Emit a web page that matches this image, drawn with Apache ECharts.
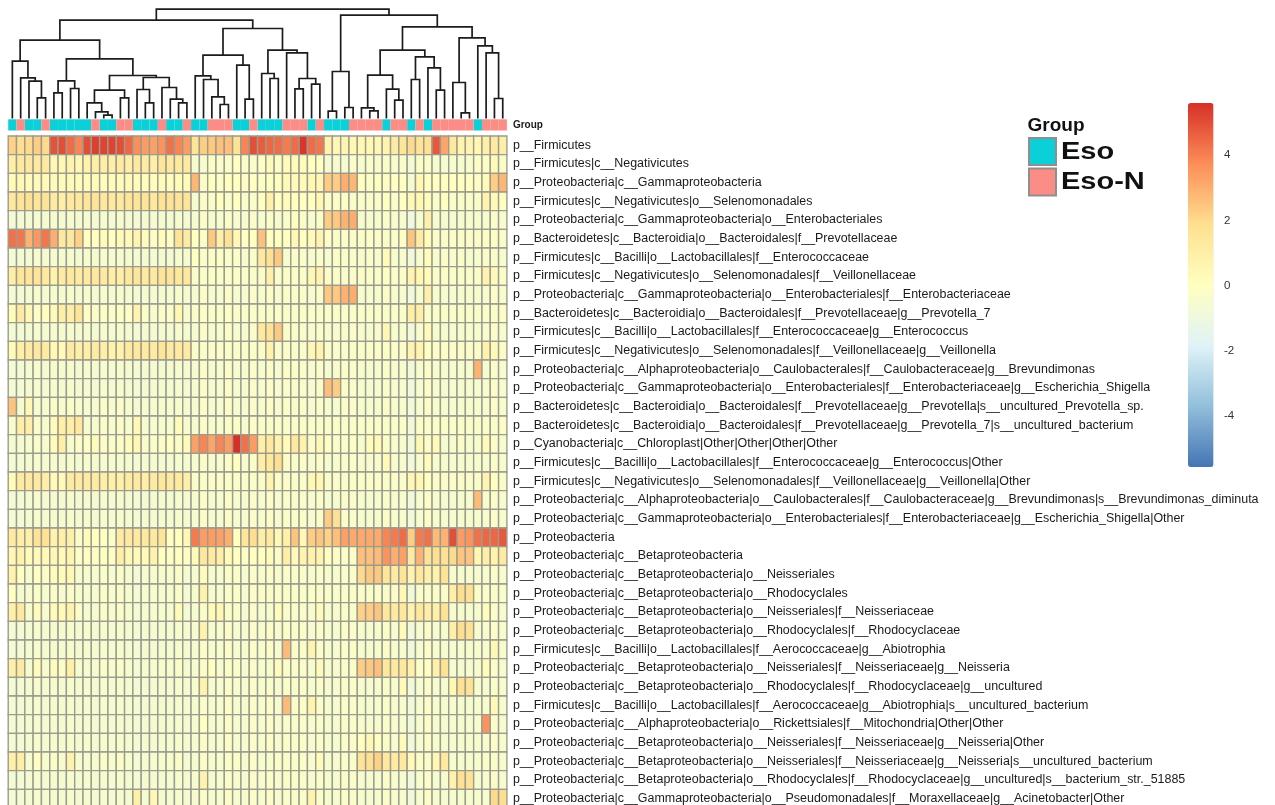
<!DOCTYPE html>
<html><head><meta charset="utf-8">
<style>html,body{margin:0;padding:0;background:#fff;overflow:hidden}#c{width:1275px;height:805px}</style>
<script src="https://cdn.jsdelivr.net/npm/echarts@6/dist/echarts.min.js"></script>
</head><body><div id="c"></div>
<script>
const rowLabels = [
"p__Firmicutes",
"p__Firmicutes|c__Negativicutes",
"p__Proteobacteria|c__Gammaproteobacteria",
"p__Firmicutes|c__Negativicutes|o__Selenomonadales",
"p__Proteobacteria|c__Gammaproteobacteria|o__Enterobacteriales",
"p__Bacteroidetes|c__Bacteroidia|o__Bacteroidales|f__Prevotellaceae",
"p__Firmicutes|c__Bacilli|o__Lactobacillales|f__Enterococcaceae",
"p__Firmicutes|c__Negativicutes|o__Selenomonadales|f__Veillonellaceae",
"p__Proteobacteria|c__Gammaproteobacteria|o__Enterobacteriales|f__Enterobacteriaceae",
"p__Bacteroidetes|c__Bacteroidia|o__Bacteroidales|f__Prevotellaceae|g__Prevotella_7",
"p__Firmicutes|c__Bacilli|o__Lactobacillales|f__Enterococcaceae|g__Enterococcus",
"p__Firmicutes|c__Negativicutes|o__Selenomonadales|f__Veillonellaceae|g__Veillonella",
"p__Proteobacteria|c__Alphaproteobacteria|o__Caulobacterales|f__Caulobacteraceae|g__Brevundimonas",
"p__Proteobacteria|c__Gammaproteobacteria|o__Enterobacteriales|f__Enterobacteriaceae|g__Escherichia_Shigella",
"p__Bacteroidetes|c__Bacteroidia|o__Bacteroidales|f__Prevotellaceae|g__Prevotella|s__uncultured_Prevotella_sp.",
"p__Bacteroidetes|c__Bacteroidia|o__Bacteroidales|f__Prevotellaceae|g__Prevotella_7|s__uncultured_bacterium",
"p__Cyanobacteria|c__Chloroplast|Other|Other|Other|Other",
"p__Firmicutes|c__Bacilli|o__Lactobacillales|f__Enterococcaceae|g__Enterococcus|Other",
"p__Firmicutes|c__Negativicutes|o__Selenomonadales|f__Veillonellaceae|g__Veillonella|Other",
"p__Proteobacteria|c__Alphaproteobacteria|o__Caulobacterales|f__Caulobacteraceae|g__Brevundimonas|s__Brevundimonas_diminuta",
"p__Proteobacteria|c__Gammaproteobacteria|o__Enterobacteriales|f__Enterobacteriaceae|g__Escherichia_Shigella|Other",
"p__Proteobacteria",
"p__Proteobacteria|c__Betaproteobacteria",
"p__Proteobacteria|c__Betaproteobacteria|o__Neisseriales",
"p__Proteobacteria|c__Betaproteobacteria|o__Rhodocyclales",
"p__Proteobacteria|c__Betaproteobacteria|o__Neisseriales|f__Neisseriaceae",
"p__Proteobacteria|c__Betaproteobacteria|o__Rhodocyclales|f__Rhodocyclaceae",
"p__Firmicutes|c__Bacilli|o__Lactobacillales|f__Aerococcaceae|g__Abiotrophia",
"p__Proteobacteria|c__Betaproteobacteria|o__Neisseriales|f__Neisseriaceae|g__Neisseria",
"p__Proteobacteria|c__Betaproteobacteria|o__Rhodocyclales|f__Rhodocyclaceae|g__uncultured",
"p__Firmicutes|c__Bacilli|o__Lactobacillales|f__Aerococcaceae|g__Abiotrophia|s__uncultured_bacterium",
"p__Proteobacteria|c__Alphaproteobacteria|o__Rickettsiales|f__Mitochondria|Other|Other",
"p__Proteobacteria|c__Betaproteobacteria|o__Neisseriales|f__Neisseriaceae|g__Neisseria|Other",
"p__Proteobacteria|c__Betaproteobacteria|o__Neisseriales|f__Neisseriaceae|g__Neisseria|s__uncultured_bacterium",
"p__Proteobacteria|c__Betaproteobacteria|o__Rhodocyclales|f__Rhodocyclaceae|g__uncultured|s__bacterium_str._51885",
"p__Proteobacteria|c__Gammaproteobacteria|o__Pseudomonadales|f__Moraxellaceae|g__Acinetobacter|Other"
];
const groupNames = ["Eso", "Eso-N"];
const groupColors = ["#0CD0D8", "#FB8D86"];
/* 0 = Eso, 1 = Eso-N, in dendrogram leaf order */
const sampleGroups = [0,1,0,0,1,0,0,0,0,0, 1,0,0,1,1,0,0,0,1,0, 0,1,0,0,1,1,1,0,0,1,
                      0,0,0,1,1,1,0,1,0,0, 0,1,1,1,1,0,1,1,0,1, 0,1,1,1,1,1,0,1,1,1];
/* merge height, left, right; 0 is a leaf */
const treeA = [57.3,0,[40.7,0,[37.3,0,[20.7,0,0]]]];
const treeB = [37.7,[25.7,0,0],[30,0,0]];
const treeC = [28.3,[15.7,0,[6.7,0,[3.3,0,0]]],[20.7,0,0]];
const treeD = [41,[29,0,[15.7,0,0]],[31,0,[19.3,0,[15.7,0,0]]]];
const treeE = [63.3,[42.7,0,[39,0,[21.7,0,[14,0,0]]]],[53.3,0,[19.3,0,0]]];
const treeF = [68.3,[45,0,[40,0,0]],[65.7,0,[40,[29.7,0,0],[34.3,0,0]]]];
const treeG = [47,[7.3,0,0],[11,0,0]];
const treeI = [68.3,[43.3,[10.7,0,[7.7,0,0]],[29.3,0,[18.3,0,0]]],[61.7,[39,0,0],[50.7,0,[28.3,0,0]]]];
const treeJ = [80.7,[36,0,[5.7,0,0]],[72.7,0,[65.7,0,[20,0,0]]]];
const treeRoot = [109.3,[98.3,[78.3,treeA,[59.7,treeB,[43,treeC,treeD]]],[90,treeE,treeF]],[103.3,treeG,[91.7,treeI,treeJ]]];
const colorStops = ["#4575B4","#91BFDB","#E0F3F8","#FFFFBF","#FEE090","#FC8D59","#D73027"];
const heatRows = [
[2.2,1.9,2,2.3,2,4.9,5,4.4,3.9,5, 5.3,5.2,5.2,5,4.5,3.7,3.4,3.3,3.6,4.3, 3.9,3.4,1.6,2.3,2.4,2.6,2.6,1.7,3.9,5, 4.7,4.5,4.4,4.1,4.4,5.5,4.4,4.2,.7,.4, .6,.5,.4,.5,.4,.7,1.2,1.5,2,1.6, 1.8,4.8,3.2,1.4,.7,.7,.4,.9,1.2,1],
[1,1.3,1.4,1.3,1.3,.4,.4,.7,.5,.8, 1,1,1,1.2,1,1.3,1.2,1,1.5,1.3, 1.3,1.3,-.5,-.5,-.3,-.3,-.3,0,-.3,-.3, -.2,.3,-.2,.2,.2,.2,0,0,-.6,-.5, -.5,-.3,-.5,-.3,-.5,-.3,-.5,-.3,-.7,-.3, -.3,-.5,-.5,-.5,-.5,-.5,-.3,-.2,.3,-.3],
[.3,.4,.2,.3,.3,.2,.2,.3,.2,.2, .2,.1,.2,.2,.3,.2,.1,.1,.2,.1, .2,.2,2.8,-.3,0,-.2,0,0,-.2,0, -.2,0,0,.3,.3,.3,.5,.5,2.3,2.3, 3,2.8,0,-.2,0,-.2,0,0,-.6,.5, 0,0,0,0,0,0,-.2,.2,2.3,2.8],
[1.4,1.6,1.8,1.6,1.6,1.2,1,1.3,1.4,1.5, 1.6,1.4,1.3,1.3,1.5,1.6,1.6,1.4,1.7,1.7, 1.6,1.6,-.5,-.3,-.3,0,-.3,0,-.3,-.3, 0,.9,0,.2,0,0,0,.5,-.3,-.3, -.2,-.3,-.3,-.3,-.3,0,-.3,0,.4,.5, .2,-.3,0,-.3,-.3,-.3,-.3,.7,.3,0],
[-.7,-.7,-.6,-.5,-.6,-.5,-.6,-.5,-.6,-.5, -.6,-.5,-.6,-.5,-.6,-.7,-.6,-.6,-.6,-.6, -.5,-.6,-.5,-.3,-.5,-.5,-.3,-.5,-.5,-.3, -.5,-.3,-.5,-.3,0,-.3,-.5,-.3,2.3,2.4, 2.9,3,-.5,-.5,-.5,-.3,-.5,-.5,-1,-.5, .9,-.5,-.5,-.5,-.5,-.5,-.5,-.5,-.3,-.5],
[4.3,4.2,2.9,3.5,4.2,3,1.3,1.4,2.2,0, 0,.2,0,.3,.3,.7,.2,-.2,.2,-.2, 1.6,1.2,0,-.2,2.4,.9,1.8,.4,0,0, 2.6,0,0,0,.4,0,.3,.7,-.2,-.3, -.2,-.3,-.3,-.2,-.3,-.3,-.3,-.2,2.5,1.2, .2,-.3,-.3,-.3,-.3,-.3,-.3,-.2,-.2,-.3],
[-.7,-.7,-.6,-.5,-.6,-.5,-.6,-.5,-.6,-.5, -.6,-.5,-.6,-.5,-.6,-.7,-.6,-.6,-.6,-.6, -.5,-.6,0,-.3,-.3,-.2,-.3,-.3,-.5,-.3, 1.4,1.8,2.4,-.5,-.3,-.3,-.5,-.3,-.5,-.3, -.3,-.3,-.5,-.3,-.5,.3,-.5,-.5,-.9,-.5, .2,-.5,-.3,-.5,-.3,-.5,-.5,-.3,-.3,-.5],
[1,1.5,1.5,1.6,1.3,.8,1.2,1.4,1.2,1.3, 1.4,1.3,1,1,1.4,1.5,1.3,1.3,1.6,1.5, 1.4,1.4,-.3,-.3,-.2,-.3,-.3,-.2,-.3,-.3, -.3,.9,-.3,-.3,-.2,-.3,.4,.7,-.3,-.3, -.3,-.3,-.3,-.3,-.3,-.2,-.3,-.3,.7,.5, .2,-.3,-.2,-.3,-.3,-.3,-.3,.7,.3,-.3],
[-.7,-.7,-.6,-.5,-.6,-.5,-.6,-.5,-.6,-.5, -.6,-.5,-.6,-.5,-.6,-.7,-.6,-.6,-.6,-.6, -.5,-.6,-.5,-.3,-.5,-.5,-.3,-.5,-.5,-.3, -.5,-.3,-.5,-.3,-.3,-.3,-.5,-.3,2.4,2.4, 2.9,3,-.5,-.5,-.5,-.3,-.5,-.5,-1,-.5, .9,-.5,-.5,-.5,-.5,-.5,-.5,-.5,-.3,-.5],
[.2,1.2,.4,-.2,0,.3,1,1,1.6,-.2, -.3,-.2,-.3,-.2,-.2,.7,-.3,-.5,-.3,-.3, .5,-.5,-.3,-.2,-.3,-.3,-.2,-.3,-.3,-.3, -.3,-.3,-.3,-.3,-.3,-.3,-.3,-.3,-.3,-.3, -.3,-.3,-.3,-.3,-.3,-.3,-.3,-.3,1,1, -.3,-.3,-.3,-.3,-.3,-.3,-.3,-.3,-.3,-.3],
[-.7,-.7,-.6,-.5,-.6,-.5,-.6,-.5,-.6,-.5, -.6,-.5,-.6,-.5,-.6,-.7,-.6,-.6,-.6,-.6, -.5,-.6,-.5,-.3,-.5,-.5,-.3,-.5,-.5,-.3, 1.3,1.7,2.4,-.3,-.3,-.3,-.5,-.3,-.5,-.5, -.3,-.3,-.5,-.5,-.5,.4,-.5,-.5,-.9,-.5, .3,-.5,-.5,-.5,-.5,-.5,-.5,-.5,-.3,-.5],
[.3,1,1.2,1.4,1.2,.4,.3,1.2,1,1, 1.2,1,.8,.8,1.3,1.4,1.2,1.2,1.5,1.3, 1.2,1.2,-.3,-.3,-.3,-.3,-.3,-.3,-.3,-.3, -.3,.8,-.3,-.3,-.3,-.3,.4,.7,-.3,-.3, -.3,-.3,-.3,-.3,-.3,-.2,-.3,-.3,.7,.7, 0,-.3,-.2,-.3,-.3,-.3,-.3,.8,.3,-.3],
[-.7,-.7,-.6,-.5,-.6,-.5,-.6,-.5,-.6,-.5, -.6,-.5,-.6,-.5,-.6,-.7,-.6,-.6,-.6,-.6, -.5,-.6,-.5,-.3,-.5,-.5,-.3,-.5,-.5,-.3, -.5,-.3,-.5,-.3,-.3,-.3,-.5,-.3,-.5,-.5, -.3,-.3,-.5,-.5,-.5,-.3,-.5,-.5,-.9,-.5, -.3,-.5,-.5,-.5,-.5,-.5,2.9,-.5,-.3,-.5],
[-.7,-.7,-.6,-.5,-.6,-.5,-.6,-.5,-.6,-.5, -.6,-.5,-.6,-.5,-.6,-.7,-.6,-.6,-.6,-.6, -.5,-.6,-.5,-.3,-.5,-.5,-.3,-.5,-.5,-.3, -.5,-.3,-.5,-.3,-.3,-.3,-.5,-.3,2.6,2.3, -.3,-.3,-.5,-.5,-.5,-.3,-.5,-.5,-.9,-.5, -.3,-.5,-.5,-.5,-.5,-.5,-.5,-.5,-.3,-.5],
[2.5,-.6,.5,-.5,-.5,-.3,-.5,-.3,-.5,-.5, -.5,-.3,-.5,-.3,-.5,-.7,-.5,-.5,-.5,-.5, -.5,-.6,-.5,-.3,-.5,-.5,-.3,-.5,-.5,-.3, -.5,-.3,-.5,-.3,-.3,-.3,-.5,-.3,-.5,-.5, -.3,-.3,-.5,-.5,-.5,-.3,-.5,-.5,-.9,-.5, -.3,-.5,-.5,-.5,-.5,-.5,-.5,-.5,-.3,-.5],
[-.5,1,1,-.3,-.5,.2,.9,1,1.3,-.5, -.5,-.3,-.5,-.3,-.5,.5,-.5,-.5,-.5,-.5, .2,-.5,-.5,-.3,-.5,-.5,-.3,-.3,-.5,-.3, -.3,-.3,-.3,-.3,-.3,-.3,-.3,-.3,-.3,-.3, -.3,-.3,-.3,-.3,-.3,-.3,-.3,-.3,-.9,-.3, -.3,-.3,-.3,-.3,-.3,-.3,-.3,-.3,-.3,-.3],
[-.6,-.6,-.5,-.3,-.5,.2,1,-.5,-.3,-.2, .2,-.3,-.3,-.3,.2,.4,-.5,-.3,-.3,0, -.3,.2,3.3,3.9,3.2,3.9,3.4,5.6,4.3,3.4, .9,1.3,.8,.2,1.4,.8,-.3,.4,-.2,-.3, -.3,-.2,-.5,.2,.3,-.3,-.5,-.5,-.9,.4, -.3,.3,-.5,-.5,-.3,-.5,-.5,.3,-.3,-.5],
[-.7,-.7,-.6,-.5,-.6,-.5,-.6,-.5,-.6,-.5, -.6,-.5,-.6,-.5,-.6,-.7,-.6,-.6,-.6,-.6, -.5,-.6,-.5,-.3,-.5,-.5,-.3,0,-.5,-.3, 1,1.4,1.9,-.3,-.3,-.3,-.5,-.3,-.5,-.5, -.3,-.3,-.5,-.5,-.5,.3,-.5,-.5,-.9,-.5, .2,-.5,-.5,-.5,-.5,-.5,-.5,-.5,-.3,-.5],
[.2,1.2,1.3,1.3,1,.3,.3,1.2,1.2,1.2, 1.2,1,.9,.9,1.2,1.3,1,1.2,1.4,1.3, 1.2,1,-.3,-.3,-.3,-.3,-.3,-.3,-.3,-.3, -.3,.7,-.3,-.3,-.3,-.3,.4,.5,-.3,-.3, -.3,-.3,-.3,-.3,-.3,-.3,-.3,-.3,.5,.5, 0,-.3,-.3,-.3,-.3,-.3,-.3,.7,0,-.3],
[-.7,-.7,-.6,-.5,-.6,-.5,-.6,-.5,-.6,-.5, -.6,-.5,-.6,-.5,-.6,-.7,-.6,-.6,-.6,-.6, -.5,-.6,-.5,-.3,-.5,-.5,-.3,-.5,-.5,-.3, -.5,-.3,-.5,-.3,-.3,-.3,-.5,-.3,-.5,-.5, -.3,-.3,-.5,-.5,-.5,-.3,-.5,-.5,-.9,-.5, -.3,-.5,-.5,-.5,-.5,-.5,2.7,-.5,-.3,-.5],
[-.7,-.7,-.6,-.5,-.6,-.5,-.6,-.5,-.6,-.5, -.6,-.5,-.6,-.5,-.6,-.7,-.6,-.6,-.6,-.6, -.5,-.6,-.5,-.3,-.5,-.5,-.3,-.5,-.5,-.3, -.5,-.3,-.5,-.3,-.3,-.3,-.5,-.3,2.3,1.8, -.3,-.3,-.5,-.5,-.5,-.3,-.5,-.5,-.9,-.5, -.3,-.5,-.5,-.5,-.5,-.5,-.5,-.5,-.3,-.5],
[1.2,1,.9,1.7,1.7,.8,.9,.9,-.3,.2, 0,0,-.3,1.2,1.3,1.3,1.4,1.4,1.6,0, 0,.4,4.1,3.4,3.4,3.3,3,0,1.5,1.9, 1,1.3,.4,.9,2.5,.5,2.3,2.5,2.2,2.6, 3.3,3.1,3.1,3.1,3.1,3.9,4.1,4.4,2.3,4.1, 4.3,2.7,2.9,5,3.4,3.6,4.3,4.5,4.5,4.8],
[.5,.8,.2,.3,.3,.4,.3,.7,-.2,0, -.2,0,-.2,1,.4,.3,.3,.8,0,-.2, 0,-.2,.2,1.4,1.2,1,.3,0,-.2,0, 0,.2,-.3,1,.3,.7,.8,.7,0,-.2, -.3,-.2,2.6,2.6,2.7,3.6,3,3.3,1.2,2.9, 1.7,1.9,1.8,2,2.5,2.5,.5,1,.7,1.2],
[.8,0,-.5,0,-.3,.2,.2,.5,-.5,-.5, -.5,-.3,-.5,-.3,-.5,-.7,-.5,-.5,-.5,-.5, -.3,-.6,-.5,.2,-.5,-.5,-.3,-.3,-.5,-.3, -.5,-.3,-.5,-.3,-.3,-.3,-.5,-.3,-.5,-.5, -.3,-.3,2,2.4,2.4,1.5,1.2,1.6,.7,1.4, .9,.8,1.7,-.5,-.5,-.5,-.5,-.5,-.3,-.5],
[0,-.6,-.5,-.3,-.5,-.3,-.5,-.3,-.5,-.5, -.5,-.3,-.5,-.3,-.5,-.7,-.5,-.5,-.5,-.5, -.3,-.6,-.5,.8,-.5,-.5,-.3,-.3,-.5,-.3, -.3,-.3,-.3,-.3,-.3,-.3,-.3,-.3,-.3,-.3, -.3,-.3,-.3,-.3,-.3,-.3,-.3,.4,-.9,-.3, -.3,-.3,-.3,1,1.9,1.8,-.3,-.3,-.3,-.3],
[.9,1.3,-.5,.2,-.5,.3,.3,.8,-.3,-.5, -.5,-.3,-.5,-.3,-.5,-.7,-.5,-.5,-.5,-.5, .3,-.6,-.5,-.3,.2,.4,-.3,-.3,-.5,-.3, -.5,-.5,.2,-.3,-.3,-.3,-.5,.3,-.5,-.5, -.3,-.3,2.2,2.3,2.5,1.4,1.3,1.4,.8,1.4, 1,.9,1.7,-.5,-.5,-.5,-.5,.2,-.3,-.5],
[-.7,-.7,-.6,-.5,-.6,-.5,-.6,-.5,-.6,-.5, -.6,-.5,-.6,-.5,-.6,-.7,-.6,-.6,-.6,-.6, -.5,-.6,-.5,.8,-.5,-.5,-.3,-.5,-.5,-.3, -.5,-.3,-.5,-.3,-.3,-.3,-.5,-.3,-.5,-.5, -.3,-.3,-.5,-.5,-.5,-.3,-.5,.3,-.9,-.5, -.3,-.5,-.5,1,1.9,1.8,-.5,-.5,-.3,-.5],
[-.7,-.7,-.6,-.5,-.6,-.5,-.6,-.5,-.6,-.5, -.6,-.5,-.6,-.5,-.6,-.7,-.6,-.6,-.6,-.6, -.5,-.6,-.5,-.3,-.5,-.5,-.3,-.5,-.5,-.3, -.5,-.3,-.5,2.7,-.3,-.3,.7,-.3,-.5,-.5, -.3,-.3,-.5,-.5,-.5,-.3,-.5,-.5,-.9,-.5, -.3,-.5,-.5,-.5,-.5,-.5,-.5,-.5,.4,-.5],
[.9,1.2,-.5,.2,-.5,.2,-.3,.9,-.5,-.5, -.5,-.3,-.5,-.3,-.5,-.7,-.5,-.5,-.5,-.5, -.3,-.6,-.5,-.3,0,-.5,-.3,-.3,-.5,-.3, -.5,-.5,.2,-.3,-.3,-.3,-.5,.3,-.5,-.5, -.3,-.3,2.3,2.4,2.6,1.4,1.3,1.4,.9,-.2, 0,.9,1.7,-.5,-.5,-.5,-.5,.2,-.3,-.5],
[-.7,-.7,-.6,-.5,-.6,-.5,-.6,-.5,-.6,-.5, -.6,-.5,-.6,-.5,-.6,-.7,-.6,-.6,-.6,-.6, -.5,-.6,-.5,.8,-.5,-.5,-.3,-.5,-.5,-.3, -.5,-.3,-.5,-.3,-.3,-.3,-.5,-.3,-.5,-.5, -.3,-.3,-.5,-.5,-.5,-.3,-.5,.3,-.9,-.5, -.3,-.5,-.5,.5,1.8,1.7,-.5,-.5,-.3,-.5],
[-.7,-.7,-.6,-.5,-.6,-.5,-.6,-.5,-.6,-.5, -.6,-.5,-.6,-.5,-.6,-.7,-.6,-.6,-.6,-.6, -.5,-.6,-.5,-.3,-.5,-.5,-.3,-.5,-.5,-.3, -.5,-.3,-.5,2.7,-.3,-.3,.7,-.3,-.5,-.5, -.3,-.3,-.5,-.5,-.5,-.3,-.5,-.5,-.9,-.5, -.3,-.5,-.5,-.5,-.5,-.5,-.5,-.5,.3,-.5],
[-.7,-.7,-.6,-.5,-.6,-.5,-.6,-.5,-.6,-.5, -.6,-.5,-.6,-.5,-.6,-.7,-.6,-.6,-.6,-.6, -.5,-.6,-.5,0,-.5,-.5,-.3,-.5,-.5,-.3, -.5,-.3,-.5,-.3,-.3,-.3,-.5,-.3,-.5,-.5, -.3,-.3,-.5,-.5,-.5,-.3,-.5,-.5,-.9,-.5, -.3,-.5,-.5,-.5,-.5,-.5,-.5,3.6,-.3,-.5],
[-.7,-.7,-.6,-.5,-.6,-.5,-.6,-.5,-.6,-.5, -.6,-.5,-.6,-.5,-.6,-.7,-.6,-.6,-.6,-.6, -.5,-.6,-.5,-.3,-.5,-.5,-.3,-.5,-.5,-.3, -.5,-.3,-.5,-.3,-.3,-.3,-.5,-.3,-.5,-.5, -.3,-.3,0,.4,0,-.3,-.5,.2,-.9,-.5, -.3,-.5,-.5,-.5,-.5,-.5,-.5,-.5,-.3,-.5],
[.9,1,-.5,0,-.5,-.3,-.5,.8,-.5,-.5, -.5,-.3,-.5,-.3,-.5,-.7,-.5,-.5,-.5,-.5, -.3,-.6,-.5,-.3,-.5,-.5,-.3,-.3,-.5,-.3, -.5,-.5,-.3,-.3,-.3,-.3,-.5,.2,-.5,-.5, -.3,-.3,1.6,1.9,2.2,1.4,1.2,1.3,.3,-.3, -.3,.5,1.3,-.5,-.5,-.5,-.5,-.3,-.3,-.5],
[-.7,-.7,-.6,-.5,-.6,-.5,-.6,-.5,-.6,-.5, -.6,-.5,-.6,-.5,-.6,-.7,-.6,-.6,-.6,-.6, -.5,-.6,-.5,.7,-.5,-.5,-.3,-.5,-.5,-.3, -.5,-.3,-.5,-.3,-.3,-.3,-.5,-.3,-.5,-.5, -.3,-.3,-.5,-.5,-.5,-.3,-.5,-.5,-.9,-.5, -.3,-.5,-.5,.8,1.8,1.7,-.5,-.5,-.3,-.5],
[-.7,-.7,-.6,-.5,-.6,-.5,-.6,-.5,-.6,-.5, -.6,-.5,-.6,-.5,-.6,.9,-.6,.4,-.6,-.6, -.5,-.6,-.5,-.3,-.5,-.5,-.3,-.5,-.5,-.3, -.5,-.3,-.5,-.3,-.3,-.3,.8,-.3,-.5,-.5, -.3,-.3,-.5,-.5,-.5,-.3,-.5,-.5,-.9,-.5, -.3,-.5,-.5,-.5,-.5,-.5,-.5,-.5,2,1.9]
];

/* walk the merge tree and turn it into U-shaped links */
const treeLinks = [];
let nextLeaf = 0;
function walk(node) {
  if (node === 0) { const p = [nextLeaf + 0.5, 0]; nextLeaf++; return p; }
  const l = walk(node[1]), r = walk(node[2]);
  treeLinks.push([l[0], r[0], node[0], l[1], r[1]]);
  return [(l[0] + r[0]) / 2, node[0]];
}
walk(treeRoot);

const heatData = [];
heatRows.forEach((row, y) => row.forEach((v, x) => heatData.push([x, y, v])));
const colIdx = sampleGroups.map((_, i) => i);
function groupData(g) {
  return sampleGroups.map((s, i) => s === g ? [i, 0] : null).filter(Boolean);
}
const CELL = "#9C9B8E";
const left = 8.2, width = 498.7;
const chart = echarts.init(document.getElementById("c"));
const cellRender = (stroke, lw, fillFn) => (params, api) => {
  const c = api.coord([api.value(0), api.value(1)]);
  const s = api.size([1, 1]);
  return { type: "rect",
    shape: { x: c[0] - s[0] / 2, y: c[1] - s[1] / 2, width: s[0], height: s[1] },
    style: { fill: fillFn(api), stroke, lineWidth: lw } };
};
const textFont = "Liberation Sans";
const legendLabel = (text, y) => ({
  type: "text", left: 1061, top: y, scaleX: 1.26, silent: true,
  style: { text, fontFamily: textFont, fontWeight: "bold", fontSize: 23, fill: "#111" }
});
chart.setOption({
  animation: false,
  backgroundColor: "#fff",
  title: { text: "Group", left: 1027.5, top: 116, padding: 0,
    textStyle: { fontFamily: textFont, fontWeight: "bold", fontSize: 19, color: "#111" } },
  legend: { orient: "vertical", left: 1028, top: 137, padding: 0, itemWidth: 27, itemHeight: 27, itemGap: 1.5,
    selectedMode: false, icon: "rect", data: groupNames, formatter: () => "",
    itemStyle: { borderColor: "#8f8f8f", borderWidth: 2 } },
  graphic: [ legendLabel(groupNames[0], 141), legendLabel(groupNames[1], 171) ],
  grid: [
    { left, width, top: 136, height: 672, outerBoundsMode: "none" },
    { left, width, top: 119.3, height: 11.2, outerBoundsMode: "none" },
    { left, width, top: 8, height: 110.5, outerBoundsMode: "none" },
    { left: 1188, width: 25.5, top: 90.1, height: 391.2, outerBoundsMode: "none" }
  ],
  xAxis: [
    { gridIndex: 0, type: "category", data: colIdx, show: false },
    { gridIndex: 1, type: "category", data: colIdx, show: false },
    { gridIndex: 2, type: "value", min: 0, max: 60, show: false },
    { gridIndex: 3, type: "value", min: 0, max: 1, show: false }
  ],
  yAxis: [
    { gridIndex: 0, type: "category", data: rowLabels, inverse: true, position: "right",
      axisLine: { show: false }, axisTick: { show: false },
      axisLabel: { interval: 0, margin: 6, fontFamily: textFont, fontSize: 12.45, color: "#1a1a1a" } },
    { gridIndex: 1, type: "category", data: ["Group"], position: "right",
      axisLine: { show: false }, axisTick: { show: false },
      axisLabel: { margin: 6, fontFamily: textFont, fontSize: 10, fontWeight: "bold", color: "#1a1a1a" } },
    { gridIndex: 2, type: "value", min: 0, max: 110.5, show: false },
    { gridIndex: 3, type: "value", min: -6, max: 6, interval: 2, position: "right",
      splitLine: { show: false }, axisLine: { show: false }, axisTick: { show: false },
      axisLabel: { margin: 10.5, fontFamily: textFont, fontSize: 11.5, color: "#333",
        formatter: v => Math.abs(v) === 6 ? "" : String(v) } }
  ],
  visualMap: {
    type: "continuous", seriesIndex: 0, dimension: 2, min: -5.6, max: 5.6,
    left: 1188, top: 103, itemWidth: 25.5, itemHeight: 364, padding: 0,
    calculable: false, hoverLink: false, realtime: false,
    inRange: { color: colorStops }
  },
  series: [
    { type: "custom", name: "heat", xAxisIndex: 0, yAxisIndex: 0, data: heatData,
      encode: { x: 0, y: 1 }, renderItem: cellRender(CELL, 1.4, api => api.visual("color")), silent: true },
    ...groupNames.map((g, gi) => ({
      type: "custom", name: g, xAxisIndex: 1, yAxisIndex: 1, data: groupData(gi),
      itemStyle: { color: groupColors[gi] }, encode: { x: 0, y: 1 },
      renderItem: cellRender(groupColors[gi], 0, () => groupColors[gi]), silent: true })),
    { type: "custom", name: "dendrogram", xAxisIndex: 2, yAxisIndex: 2, data: treeLinks, silent: true, clip: false,
      encode: { x: [0, 1], y: [2, 3, 4] },
      renderItem: (params, api) => {
        const a = api.coord([api.value(0), api.value(3)]);
        const b = api.coord([api.value(0), api.value(2)]);
        const c = api.coord([api.value(1), api.value(2)]);
        const d = api.coord([api.value(1), api.value(4)]);
        return { type: "polyline", shape: { points: [a, b, c, d] },
          style: { fill: null, stroke: "#1c1c1c", lineWidth: 1.7 } };
      } },
    { type: "line", xAxisIndex: 3, yAxisIndex: 3, data: [], silent: true }
  ]
});
</script></body></html>
